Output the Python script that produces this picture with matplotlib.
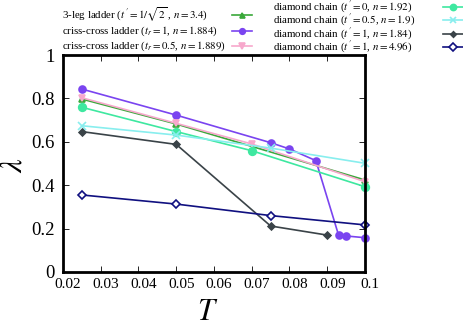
import numpy as np
import matplotlib
matplotlib.use("Agg")
import matplotlib.pyplot as plt
import matplotlib.transforms as mtransforms
from matplotlib.lines import Line2D

plt.rcParams["font.family"] = ["Liberation Serif", "DejaVu Serif"]
plt.rcParams["mathtext.fontset"] = "stix"

# data (T, lambda)
T_3leg = [0.025, 0.05, 0.1]
lam_3leg = [0.797, 0.682, 0.424]

T_cc1 = [0.025, 0.05, 0.075, 0.08, 0.087, 0.093, 0.095, 0.1]
lam_cc1 = [0.843, 0.723, 0.596, 0.567, 0.513, 0.170, 0.166, 0.158]

T_cc05 = [0.025, 0.05, 0.07, 0.1]
lam_cc05 = [0.803, 0.685, 0.590, 0.416]

T_dc0 = [0.025, 0.05, 0.07, 0.1]
lam_dc0 = [0.759, 0.647, 0.559, 0.393]

T_dc05 = [0.025, 0.05, 0.075, 0.1]
lam_dc05 = [0.674, 0.631, 0.571, 0.501]

T_dc1 = [0.025, 0.05, 0.075, 0.09]
lam_dc1 = [0.647, 0.588, 0.212, 0.170]

T_dc1b = [0.025, 0.05, 0.075, 0.1]
lam_dc1b = [0.355, 0.313, 0.260, 0.217]

xticks = [0.02, 0.03, 0.04, 0.05, 0.06, 0.07, 0.08, 0.09, 0.1]
xticklabels = ["0.02", "0.03", "0.04", "0.05", "0.06", "0.07", "0.08", "0.09", "0.1"]
yticks = [0, 0.2, 0.4, 0.6, 0.8, 1]
yticklabels = ["0", "0.2", "0.4", "0.6", "0.8", "1"]

W, H = 464, 333
fig = plt.figure(figsize=(W / 100, H / 100), dpi=100)
ax = fig.add_axes([63 / W, 1 - 272 / H, (365 - 63) / W, (272 - 55) / H])

# (x, y, label, color, marker, ms, mfc)
series = [
    (T_3leg, lam_3leg, r"3-leg ladder ($t\,' = 1/\sqrt{2}$ , $n = 3.4$)", "#3aa83a", "^", 4.5, None),
    (T_cc1, lam_cc1, r"criss-cross ladder ($t_r = 1$, $n = 1.884$)", "#7a44f0", "o", 5, None),
    (T_cc05, lam_cc05, r"criss-cross ladder ($t_r = 0.5$, $n = 1.889$)", "#f7a8cc", "v", 5, None),
    (T_dc0, lam_dc0, r"diamond chain ($t\,' = 0$, $n = 1.92$)", "#3ee8a0", "o", 5.5, None),
    (T_dc05, lam_dc05, r"diamond chain ($t\,' = 0.5$, $n = 1.9$)", "#88eeee", "x", 5.5, None),
    (T_dc1, lam_dc1, r"diamond chain ($t\,' = 1$, $n = 1.84$)", "#3a4348", "D", 3.5, None),
    (T_dc1b, lam_dc1b, r"diamond chain ($t\,' = 1$, $n = 4.96$)", "#101080", "D", 4.5, "white"),
]

for x, y, lab, c, m, ms, mfc in series:
    ax.plot(x, y, color=c, marker=m, ms=ms, lw=1.2, mew=1.2,
            mfc=mfc if mfc else c, clip_on=False)

ax.set_xlim(0.02, 0.1)
ax.set_ylim(0, 1)
ax.set_xticks(xticks)
ax.set_xticklabels(xticklabels, fontsize=11)
ax.set_yticks(yticks)
ax.set_yticklabels(yticklabels, fontsize=13.5)
ax.tick_params(direction="in", length=4, width=0.6, top=True, right=True, pad=4)
ax.tick_params(axis="y", pad=6)
for s in ax.spines.values():
    s.set_linewidth(2)

# gnuplot puts the x labels a few pixels right of their ticks
shift = mtransforms.ScaledTranslation(5 / 100, 0, fig.dpi_scale_trans)
for lbl in ax.get_xticklabels():
    lbl.set_transform(lbl.get_transform() + shift)

fig.text(14 / W, 1 - 165 / H, r"$\lambda$", fontsize=22, rotation=90,
         ha="center", va="center")
fig.text(208 / W, 1 - 312 / H, r"$T$", fontsize=22, ha="center", va="center")

# hand-made key (text left-aligned, sample lines in a fixed column)
left_rows = [15, 31, 46]
right_rows = [7, 20, 33.5, 47]
fs = 7.8
for (x, y, lab, c, m, ms, mfc), yy in zip(series[:3], left_rows):
    fig.text(62 / W, 1 - yy / H, lab, fontsize=fs, ha="left", va="center")
    fig.add_artist(Line2D([232 / W, 252 / W], [1 - yy / H] * 2, color=c, lw=1.2))
    fig.add_artist(Line2D([242 / W], [1 - yy / H], color=c, marker=m, ms=ms * 0.8,
                          mew=1.2, mfc=mfc if mfc else c))
for (x, y, lab, c, m, ms, mfc), yy in zip(series[3:], right_rows):
    fig.text(273 / W, 1 - yy / H, lab, fontsize=fs, ha="left", va="center")
    fig.add_artist(Line2D([443 / W, 463 / W], [1 - yy / H] * 2, color=c, lw=1.2))
    fig.add_artist(Line2D([453 / W], [1 - yy / H], color=c, marker=m, ms=ms * 0.8,
                          mew=1.2, mfc=mfc if mfc else c))

fig.savefig("out.png", dpi=100)
